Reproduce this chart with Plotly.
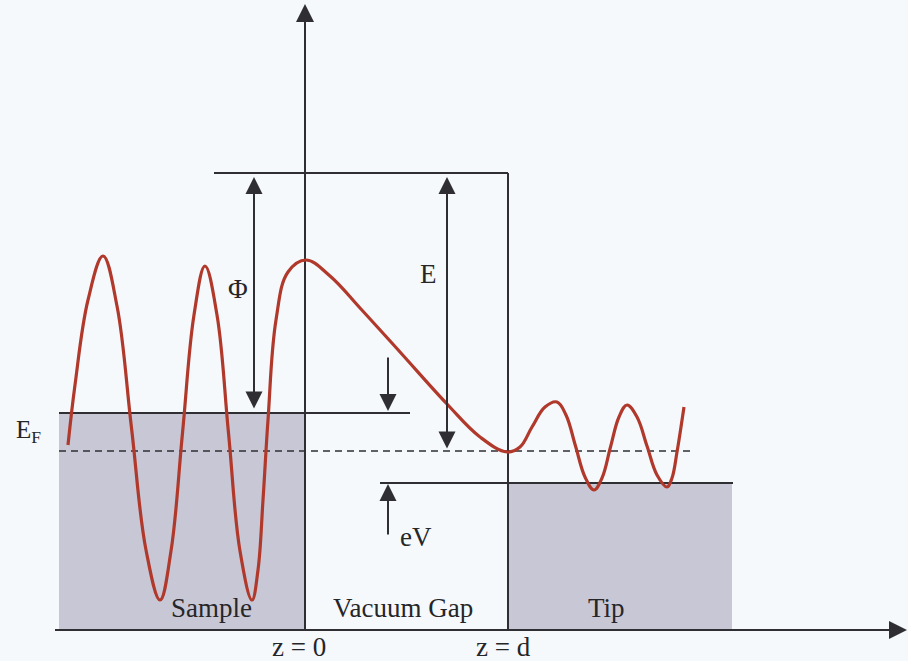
import plotly.graph_objects as go

# ---- diagram data (diagram units: z along horizontal, energy downwards) ----
z_axis = [55, 895]
energy_axis = [630, 12]
z0 = 305
zd = 508
barrier_z = [214, 508]
barrier_level = 173
sample_z = [59, 305]
sample_fermi = 413
sample_fermi_line_z = [59, 410]
mid_fermi = 451
mid_fermi_z = [59, 695]
tip_z = [508, 732]
tip_fermi = 483
tip_fermi_line_z = [380, 733]
bottom = 630

wave_z = [68, 75, 88, 103, 117, 131.5, 146, 160, 171, 182.5, 194, 205, 217, 228.5, 240, 252,
          258, 263, 268, 276, 288, 306, 330, 360, 400, 447, 480, 507,
          520, 532, 545, 557, 566, 575.5, 585, 594, 602, 610.5, 619, 627,
          637, 647, 657, 667, 672, 677, 681, 684]
wave_e = [445, 385, 300, 256, 306, 428, 550, 600, 551, 433, 315, 266, 315, 433, 551, 600,
          570, 500, 420, 320, 272, 260, 276, 308, 352, 404, 437, 452,
          447, 427, 407, 402, 415, 446, 477, 490, 478, 447, 417, 405,
          417, 446, 475, 487, 478, 452, 427, 407]

phi_arrow_z = 254
e_arrow_z = 447
ev_arrow_z = 388

labels = ["Φ", "E", "eV", "Sample", "Vacuum Gap", "Tip", "z = 0", "z = d"]
label_z = [238, 428, 416, 211, 403, 606, 299, 503]
label_e = [289, 274, 537, 608, 608, 608, 647, 647]

LINE = "#2f2f33"
FILL = "#c8c7d6"
RED = "#b0392c"
FONT = "Liberation Serif"

fig = go.Figure()

# filled metal regions
fig.add_trace(go.Scatter(
    x=[sample_z[0], sample_z[1], sample_z[1], sample_z[0], sample_z[0]],
    y=[sample_fermi, sample_fermi, bottom, bottom, sample_fermi],
    fill="toself", fillcolor=FILL, mode="lines", line=dict(width=0), hoverinfo="skip"))
fig.add_trace(go.Scatter(
    x=[tip_z[0], tip_z[1], tip_z[1], tip_z[0], tip_z[0]],
    y=[tip_fermi, tip_fermi, bottom, bottom, tip_fermi],
    fill="toself", fillcolor=FILL, mode="lines", line=dict(width=0), hoverinfo="skip"))

def seg(xs, ys, width=2, dash="solid", color=LINE):
    fig.add_trace(go.Scatter(x=xs, y=ys, mode="lines",
                             line=dict(color=color, width=width, dash=dash),
                             hoverinfo="skip"))

# axes lines
seg(z_axis, [bottom, bottom])
seg([z0, z0], [bottom, energy_axis[1]])
# barrier
seg(barrier_z, [barrier_level, barrier_level])
seg([zd, zd], [barrier_level, bottom])
# fermi levels
seg(sample_fermi_line_z, [sample_fermi, sample_fermi])
seg(tip_fermi_line_z, [tip_fermi, tip_fermi])
seg(mid_fermi_z, [mid_fermi, mid_fermi], width=1.6, dash="7px,5px")

# wavefunction
fig.add_trace(go.Scatter(x=wave_z, y=wave_e, mode="lines",
                         line=dict(color=RED, width=3.2, shape="spline", smoothing=1.1),
                         hoverinfo="skip"))

def arrow(x, y, ax, ay, both=False, size=1.0):
    fig.add_annotation(x=x, y=y, ax=ax, ay=ay, xref="x", yref="y", axref="x", ayref="y",
                       showarrow=True, arrowhead=2, arrowsize=size, arrowwidth=2,
                       arrowcolor=LINE, arrowside="end+start" if both else "end", text="")

# axis arrowheads
arrow(z0, 4, z0, 40, size=1.8)
arrow(907, bottom, 860, bottom, size=1.8)
# Φ and E double arrows
arrow(phi_arrow_z, 177, phi_arrow_z, 410, both=True, size=1.7)
arrow(e_arrow_z, 177, e_arrow_z, 450, both=True, size=1.7)
# small arrows
arrow(ev_arrow_z, 411, ev_arrow_z, 356, size=1.7)
arrow(ev_arrow_z, 484, ev_arrow_z, 536, size=1.7)

for t, x, y in zip(labels, label_z, label_e):
    fig.add_annotation(x=x, y=y, text=t, showarrow=False, xref="x", yref="y",
                       font=dict(family=FONT, size=27, color="#262629"))
fig.add_annotation(x=28, y=431, text="E<sub>F</sub>", showarrow=False, xref="x", yref="y",
                   font=dict(family=FONT, size=25, color="#262629"))

fig.update_layout(
    width=908, height=661, margin=dict(l=0, r=0, t=0, b=0),
    paper_bgcolor="#f5f9fb", plot_bgcolor="#f5f9fb", showlegend=False,
    xaxis=dict(range=[0, 908], visible=False, fixedrange=True),
    yaxis=dict(range=[661, 0], visible=False, fixedrange=True),
)
fig.write_html("out.html", config={"displayModeBar": False},
               post_script="document.body.style.margin='0';document.body.style.overflow='hidden';")
